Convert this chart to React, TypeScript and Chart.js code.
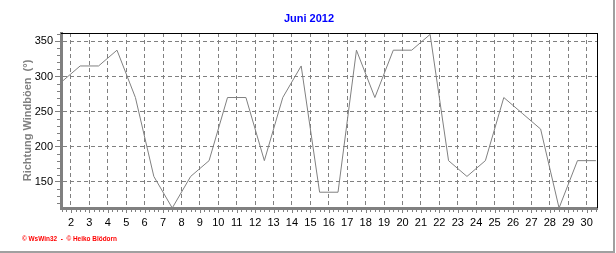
import React, { useEffect, useRef } from "react";
import { Chart, registerables } from "chart.js";

Chart.register(...registerables);

// ---- data ----
const days = [1, 2, 3, 4, 5, 6, 7, 8, 9, 10, 11, 12, 13, 14, 15, 16, 17, 18, 19, 20, 21, 22, 23, 24, 25, 26, 27, 28, 29, 30];
const gustDirections = [
  292.5, 315, 315, 337.5, 270, 157.5, 112.5, 157.5, 180, 270,
  270, 180, 270, 315, 135, 135, 337.5, 270, 337.5, 337.5,
  360, 180, 157.5, 180, 270, 247.5, 225, 112.5, 180, 180,
];
const xTickValues = [2, 3, 4, 5, 6, 7, 8, 9, 10, 11, 12, 13, 14, 15, 16, 17, 18, 19, 20, 21, 22, 23, 24, 25, 26, 27, 28, 29, 30];
const yTickValues = [150, 200, 250, 300, 350];
const chartTitle = "Juni 2012";
const yAxisTitle = "Richtung Windböen  (°)";
const footerText = "© WsWin32  -  © Heiko Blödorn";

const FONT = "'Liberation Sans', Arial, sans-serif";
const GRAY = "#808080";

export default function App() {
  const ref = useRef<HTMLCanvasElement>(null);

  useEffect(() => {
    document.body.style.margin = "0";
    const canvas = ref.current!;

    const decor = {
      id: "decor",
      afterDraw(chart: any) {
        const { ctx, chartArea: a, scales } = chart;
        const xs = scales.x;
        const ys = scales.y;
        ctx.save();
        // outer frame (right / bottom)
        ctx.fillStyle = "#a0a0a0";
        ctx.fillRect(613, 0, 2, 253);
        ctx.fillRect(0, 251, 615, 2);
        // top / right plot border
        ctx.strokeStyle = "#000";
        ctx.lineWidth = 1;
        ctx.setLineDash([]);
        ctx.beginPath();
        ctx.moveTo(a.left, a.top + 0.5);
        ctx.lineTo(a.right + 1, a.top + 0.5);
        ctx.moveTo(a.right + 0.5, a.top);
        ctx.lineTo(a.right + 0.5, a.bottom);
        ctx.stroke();
        // minor ticks
        ctx.strokeStyle = GRAY;
        ctx.beginPath();
        for (let v = 120; v <= ys.max; v += 10) {
          if (v % 50 === 0) continue;
          const py = Math.round(ys.getPixelForValue(v)) + 0.5;
          ctx.moveTo(a.left - 4, py);
          ctx.lineTo(a.left - 1, py);
        }
        for (let v = Math.ceil(xs.min * 4) / 4; v <= xs.max; v += 0.25) {
          const px = Math.round(xs.getPixelForValue(v)) + 0.5;
          ctx.moveTo(px, a.bottom + 1);
          ctx.lineTo(px, a.bottom + (Number.isInteger(v) ? 5 : 4));
        }
        ctx.stroke();
        // title
        ctx.fillStyle = "#0000ff";
        ctx.font = `bold 11px ${FONT}`;
        ctx.textAlign = "center";
        ctx.textBaseline = "middle";
        ctx.fillText(chartTitle, 309, 19);
        // footer
        ctx.fillStyle = "#ff0000";
        ctx.font = `bold 7px ${FONT}`;
        ctx.textAlign = "left";
        ctx.fillText(footerText, 22, 239, 95);
        ctx.restore();
      },
    };

    const chart = new Chart(canvas, {
      type: "line",
      data: {
        datasets: [
          {
            data: days.map((d, i) => ({ x: d + 0.5, y: gustDirections[i] })),
            borderColor: GRAY,
            borderWidth: 1,
            pointRadius: 0,
            tension: 0,
            fill: false,
          },
        ],
      },
      options: {
        animation: false,
        responsive: false,
        devicePixelRatio: 1,
        layout: { padding: { left: 0, top: 33, right: 19, bottom: 0 } },
        plugins: { legend: { display: false }, tooltip: { enabled: false }, title: { display: false } },
        scales: {
          x: {
            type: "linear",
            min: 1.46,
            max: 30.56,
            afterFit: (s: any) => { s.height = 45; },
            afterBuildTicks: (s: any) => { s.ticks = xTickValues.map((v) => ({ value: v })); },
            ticks: { color: "#000", font: { family: FONT, size: 11 }, padding: 8, maxRotation: 0, autoSkip: false },
            grid: { color: GRAY, drawTicks: false, lineWidth: 1 },
            border: { display: true, color: GRAY, width: 3, dash: [4, 3] },
          },
          y: {
            type: "linear",
            min: 112.5,
            max: 362,
            afterFit: (s: any) => { s.width = 61; },
            afterBuildTicks: (s: any) => { s.ticks = yTickValues.map((v) => ({ value: v })); },
            ticks: { color: "#000", font: { family: FONT, size: 11 }, padding: 2 },
            grid: { color: GRAY, drawTicks: true, tickLength: 6, tickColor: GRAY, lineWidth: 1, tickBorderDash: [] },
            border: { display: true, color: GRAY, width: 3, dash: [4, 3] },
            title: {
              display: true,
              text: yAxisTitle,
              color: GRAY,
              font: { family: FONT, size: 11, weight: "bold" },
              padding: { top: 21, bottom: 0 },
            },
          },
        },
      },
      plugins: [decor],
    });
    return () => chart.destroy();
  }, []);

  return <canvas ref={ref} width={616} height={253} style={{ display: "block" }} />;
}
